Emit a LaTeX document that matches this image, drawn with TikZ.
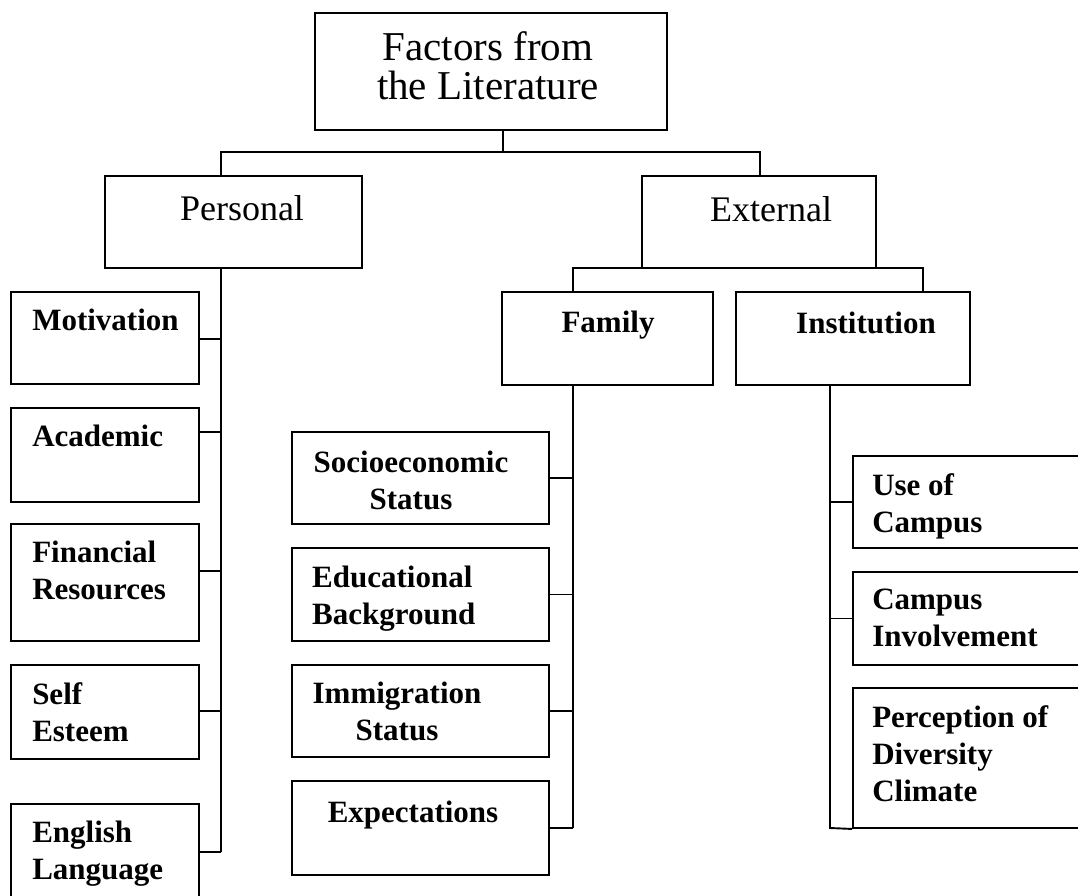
\documentclass[tikz,border=0pt]{standalone}
\usepackage{fontspec}
\setmainfont{Liberation Serif}
\usepackage{tikz}

\begin{document}
\begin{tikzpicture}[x=1pt,y=-1pt,
    box/.style={draw,line width=1.9pt,inner sep=0pt},
    wire/.style={line width=1.9pt},
    bigtext/.style={font=\fontsize{41}{39.5}\selectfont,align=center,anchor=north,inner sep=0pt},
    midtext/.style={font=\fontsize{36}{40}\selectfont,anchor=north,inner sep=0pt},
    leaftext/.style={font=\bfseries\fontsize{31}{37}\selectfont,align=left,anchor=north west,inner sep=0pt}]
  \useasboundingbox (0,0) rectangle (1078,896);

  \node[box,minimum width=352,minimum height=117] (lit) at (491,71.5) {};
  \node[bigtext] (t-lit) at (488,31) {Factors from\\the Literature};

  \node[box,minimum width=257,minimum height=92] (pers) at (233.5,222) {};
  \node[midtext] (t-pers) at (242,195) {Personal};
  \node[box,minimum width=234,minimum height=92] (ext) at (759,222) {};
  \node[midtext] (t-ext) at (771,196) {External};

  \node[box,minimum width=211,minimum height=93] (fam) at (607.5,338.5) {};
  \node[leaftext,anchor=north] (t-fam) at (608,311) {Family};
  \node[box,minimum width=234,minimum height=93] (inst) at (853,338.5) {};
  \node[leaftext,anchor=north] (t-inst) at (866,312) {Institution};

  \foreach \nm/\y/\h/\txt in {mot/338/92/Motivation, acad/455/94/Academic,
      fin/582.5/117/Financial\\Resources, self/712/94/Self\\Esteem,
      eng/852/96/English\\Language}{
    \node[box,minimum width=188,minimum height=\h] (\nm) at (105,\y) {};
    \node[leaftext] (t-\nm) at ([shift={(22,18)}]\nm.north west) {\txt};
  }

  \foreach \nm/\y/\h in {soc/478/92, edu/594.5/93, imm/711/92, exp/828/94}{
    \node[box,minimum width=257,minimum height=\h] (\nm) at (420.5,\y) {};
  }
  \node[leaftext,align=center,anchor=north] (t-soc) at (411,451) {Socioeconomic\\Status};
  \node[leaftext] (t-edu) at (312,566) {Educational\\Background};
  \node[leaftext,align=center,anchor=north] (t-imm) at (397,682) {Immigration\\Status};
  \node[leaftext,align=center,anchor=north] (t-exp) at (413,801) {Expectations};

  \foreach \nm/\y/\h/\txt in {use/502/92/Use of\\Campus, inv/618.5/93/Campus\\Involvement,
      per/758/140/Perception of\\Diversity\\Climate}{
    \node[box,minimum width=232,minimum height=\h] (\nm) at (969,\y) {};
    \node[leaftext] (t-\nm) at ([shift={(20,18)}]\nm.north west) {\txt};
  }

  \coordinate (top) at (503,152);
  \coordinate (cP) at (221,152);
  \coordinate (cE) at (760,152);
  \draw[wire] (lit.south -| top) -- (top);
  \draw[wire] (pers.north -| cP) -- (cP) -- (cE) -- (ext.north -| cE);

  \coordinate (cF) at (573,268);
  \coordinate (cI) at (923,268);
  \draw[wire] (fam.north -| cF) -- (cF) -- (cI) -- (inst.north -| cI);

  \foreach \nm/\y in {mot/339, acad/432, fin/571, self/711, eng/852}{
    \coordinate (j\nm) at (221,\y);
    \draw[wire] (j\nm) -- (\nm.east |- j\nm);
  }
  \draw[wire] (pers.south -| jmot) -- (jeng);

  \coordinate (fspine) at (573,828);
  \draw[wire] (fam.south -| fspine) -- (fspine);
  \foreach \nm in {soc,edu,imm,exp}
    \draw[wire] (\nm.east) -- (\nm.east -| fspine);

  \coordinate (ispine) at (830,828);
  \draw[wire] (inst.south -| ispine) -- (ispine) -- (per.south west);
  \foreach \nm in {use,inv}
    \draw[wire] (\nm.west) -- (\nm.west -| ispine);
\end{tikzpicture}
\end{document}
